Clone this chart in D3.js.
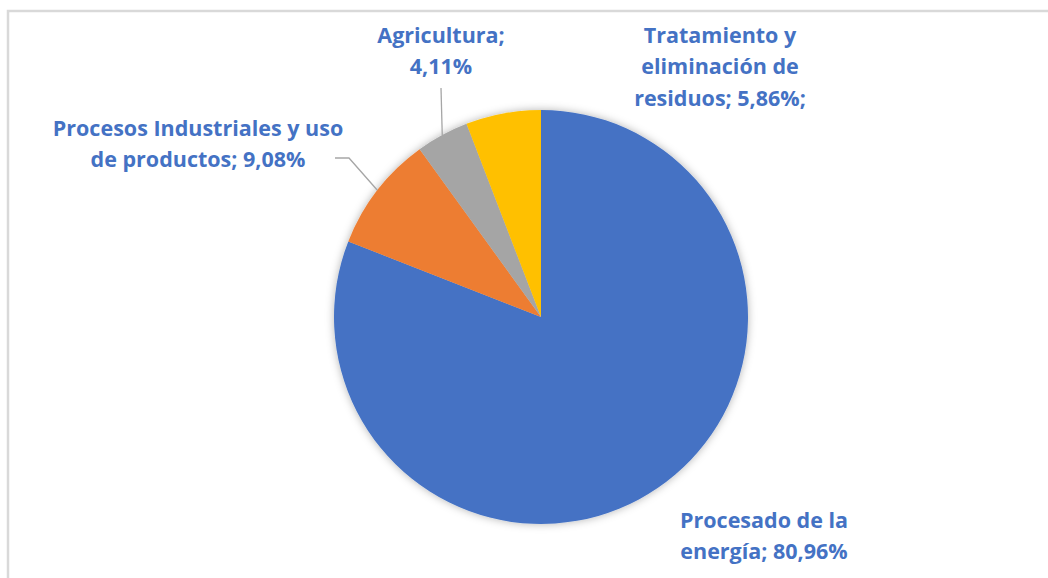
<!DOCTYPE html>
<html>
<head>
<meta charset="utf-8">
<script src="https://cdn.jsdelivr.net/npm/d3@7"></script>
<style>
  body { margin: 0; background: #fff; }
  svg { display: block; }
</style>
</head>
<body>
<script>
// data
const sectors = ['Procesado de la energía', 'Procesos Industriales y uso de productos', 'Agricultura', 'Tratamiento y eliminación de residuos'];
const shares = [80.96, 9.08, 4.11, 5.86];
const colors = ['#4472C4', '#ED7D31', '#A5A5A5', '#FFC000'];
const labelLines = [
  ['Procesado de la', 'energía; 80,96%'],
  ['Procesos Industriales y uso', 'de productos; 9,08%'],
  ['Agricultura;', '4,11%'],
  ['Tratamiento y', 'eliminación de', 'residuos; 5,86%;']
];

const W = 1048, H = 578;
const cx = 541, cy = 317, r = 207;

const svg = d3.select('body').append('svg')
  .attr('width', W)
  .attr('height', H);

// chart border
svg.append('rect')
  .attr('x', 8).attr('y', 11)
  .attr('width', W).attr('height', H)
  .attr('fill', '#fff')
  .attr('stroke', '#d9d9d9')
  .attr('stroke-width', 2.5);

const defs = svg.append('defs');
const f = defs.append('filter').attr('id', 'shadow')
  .attr('x', '-10%').attr('y', '-10%').attr('width', '120%').attr('height', '120%');
f.append('feDropShadow')
  .attr('dx', 0).attr('dy', 0)
  .attr('stdDeviation', 4)
  .attr('flood-color', '#000')
  .attr('flood-opacity', 0.3);

const pie = d3.pie().sort(null).value(d => d);
const arc = d3.arc().innerRadius(0).outerRadius(r);
const arcs = pie(shares);

const g = svg.append('g').attr('transform', `translate(${cx},${cy})`);
g.append('g').attr('filter', 'url(#shadow)')
  .selectAll('path')
  .data(arcs)
  .enter()
  .append('path')
  .attr('d', arc)
  .attr('fill', (d, i) => colors[i]);

// label anchor positions (centre x, first line y)
const labelPos = [
  [764, 520],
  [198, 128],
  [441, 35],
  [720, 35]
];
const lineH = 31.5;

labelLines.forEach((lines, i) => {
  const t = svg.append('text')
    .attr('text-anchor', 'middle')
    .attr('fill', '#4472C4')
    .attr('font-family', 'Open Sans, sans-serif')
    .attr('font-weight', 'bold')
    .attr('font-size', 21.5);
  lines.forEach((s, j) => {
    t.append('tspan')
      .attr('x', labelPos[i][0])
      .attr('y', labelPos[i][1] + j * lineH)
      .attr('dy', '0.35em')
      .text(s);
  });
});

// leader lines
const outer = d3.arc().innerRadius(r).outerRadius(r);
const cInd = outer.centroid(arcs[1]);
const cAgr = outer.centroid(arcs[2]);
const line = d3.line();
svg.append('path')
  .attr('d', line([[335, 158], [349, 158], [cx + cInd[0], cy + cInd[1]]]))
  .attr('fill', 'none').attr('stroke', '#a6a6a6').attr('stroke-width', 1.3);
svg.append('path')
  .attr('d', line([[441, 88], [cx + cAgr[0], cy + cAgr[1]]]))
  .attr('fill', 'none').attr('stroke', '#a6a6a6').attr('stroke-width', 1.3);
</script>
</body>
</html>
